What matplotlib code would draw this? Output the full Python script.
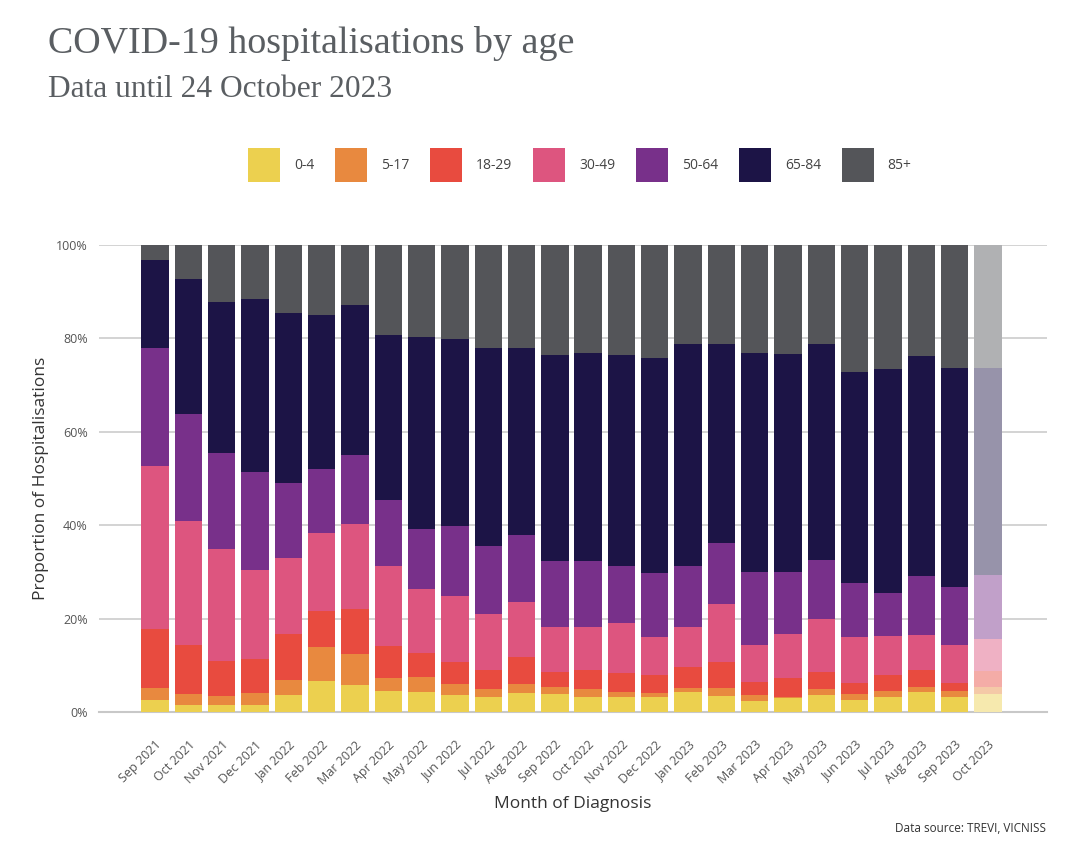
import matplotlib
matplotlib.use("Agg")
import matplotlib.pyplot as plt
from matplotlib.patches import Patch
from matplotlib.colors import to_rgb
import numpy as np

months = ["Sep 2021", "Oct 2021", "Nov 2021", "Dec 2021", "Jan 2022", "Feb 2022",
          "Mar 2022", "Apr 2022", "May 2022", "Jun 2022", "Jul 2022", "Aug 2022",
          "Sep 2022", "Oct 2022", "Nov 2022", "Dec 2022", "Jan 2023", "Feb 2023",
          "Mar 2023", "Apr 2023", "May 2023", "Jun 2023", "Jul 2023", "Aug 2023",
          "Sep 2023", "Oct 2023"]
ages = ["0-4", "5-17", "18-29", "30-49", "50-64", "65-84", "85+"]

# proportion of hospitalisations (%) per age group, per month
age_0_4 = [2.6, 1.5, 1.6, 1.5, 3.6, 6.7, 5.8, 4.5, 4.2, 3.6, 3.3, 4.0, 3.8,
           3.3, 3.2, 3.2, 4.3, 3.4, 2.3, 3.1, 3.6, 2.6, 3.3, 4.2, 3.3, 3.8]
age_5_17 = [2.5, 2.4, 1.8, 2.6, 3.3, 7.3, 6.7, 2.8, 3.2, 2.5, 1.6, 1.9, 1.5,
            1.6, 1.1, 0.9, 0.8, 1.7, 1.4, 0.2, 1.3, 1.3, 1.3, 1.2, 1.3, 1.5]
age_18_29 = [12.7, 10.4, 7.6, 7.2, 9.7, 7.7, 9.6, 6.8, 5.3, 4.5, 4.1, 5.8, 3.2,
             4.0, 4.1, 3.9, 4.6, 5.5, 2.7, 4.0, 3.7, 2.3, 3.3, 3.7, 1.7, 3.4]
age_30_49 = [34.9, 26.5, 24.0, 19.1, 16.4, 16.7, 18.2, 17.2, 13.6, 14.2, 12.0, 11.8, 9.6,
             9.2, 10.7, 8.1, 8.4, 12.5, 7.9, 9.4, 11.4, 9.9, 8.4, 7.4, 8.0, 6.9]
age_50_64 = [25.2, 23.0, 20.4, 20.9, 16.1, 13.7, 14.7, 14.1, 12.9, 15.1, 14.5, 14.5, 14.3,
             14.2, 12.2, 13.7, 13.2, 13.1, 15.7, 13.3, 12.5, 11.6, 9.1, 12.6, 12.4, 13.8]
age_65_84 = [18.9, 28.9, 32.4, 37.1, 36.4, 33.0, 32.1, 35.3, 41.0, 40.0, 42.4, 40.0, 44.1,
             44.5, 45.1, 45.9, 47.4, 42.7, 46.9, 46.7, 46.2, 45.2, 48.1, 47.2, 47.0, 44.3]
age_85_plus = [3.2, 7.3, 12.2, 11.6, 14.5, 14.9, 12.9, 19.3, 19.8, 20.1, 22.1, 22.0, 23.5,
               23.2, 23.6, 24.3, 21.3, 21.1, 23.1, 23.3, 21.3, 27.1, 26.5, 23.7, 26.3, 26.3]

series = [age_0_4, age_5_17, age_18_29, age_30_49, age_50_64, age_65_84, age_85_plus]
colors = ["#ECD04F", "#E8893F", "#E84B3F", "#DD557F", "#78308A", "#1C1446", "#545559"]

text_col = "#555555"
plt.rcParams["font.family"] = ["Open Sans", "DejaVu Sans"]

fig = plt.figure(figsize=(10.8, 8.56), dpi=100)
ax = fig.add_axes([99 / 1080, 1 - 712 / 856, (1047 - 99) / 1080, 467 / 856])

x = np.arange(len(months))
bottom = np.zeros(len(months))
for vals, col in zip(series, colors):
    vals = np.array(vals)
    # last month is partial -> drawn faded
    rgb = np.array(to_rgb(col))
    faded = tuple(rgb * 0.46 + 0.54)
    bar_cols = [col] * (len(months) - 1) + [faded]
    ax.bar(x, vals, bottom=bottom, width=0.82, color=bar_cols, linewidth=0, zorder=3)
    bottom += vals

ax.set_xlim(-1.68, len(months) - 1 + 1.77)
ax.set_ylim(0, 100)
ax.set_yticks(range(0, 101, 20))
ax.set_yticklabels([f"{v}%" for v in range(0, 101, 20)])
ax.grid(axis="y", color="#D0D0D0", linewidth=1.3, zorder=0)
ax.set_axisbelow(True)
for s in ["top", "right", "left"]:
    ax.spines[s].set_visible(False)
ax.spines["bottom"].set_color("#C8C8C8")
ax.spines["bottom"].set_linewidth(1.5)
ax.tick_params(axis="y", length=0, pad=8, labelsize=9, labelcolor=text_col)
ax.tick_params(axis="x", length=0, pad=19, labelsize=9, labelcolor=text_col)

ax.set_xticks(x)
ax.set_xticklabels(months, rotation=45, ha="right", rotation_mode="anchor")

ax.set_ylabel("Proportion of Hospitalisations", fontsize=12.5, color="#333333", labelpad=5)
ax.set_xlabel("Month of Diagnosis", fontsize=12.5, color="#333333", labelpad=6)

handles = [Patch(facecolor=c, edgecolor="none") for c in colors]
fig.legend(handles, ages, loc="center", bbox_to_anchor=(0.537, 1 - 165 / 856), ncol=7,
           frameon=False, fontsize=10, handlelength=2.3, handleheight=3.4,
           handletextpad=1.0, columnspacing=1.5, labelcolor="#444444")

fig.text(48 / 1080, 1 - 53 / 856, "COVID-19 hospitalisations by age",
         fontsize=27.4, family="Liberation Serif", color="#5A5E62", va="baseline")
fig.text(48 / 1080, 1 - 97 / 856, "Data until 24 October 2023",
         fontsize=22.6, family="Liberation Serif", color="#5A5E62", va="baseline")
fig.text(1046 / 1080, 1 - 829 / 856, "Data source: TREVI, VICNISS",
         fontsize=8.5, color="#333333", ha="right", va="center")

fig.savefig("out.png", dpi=100)
